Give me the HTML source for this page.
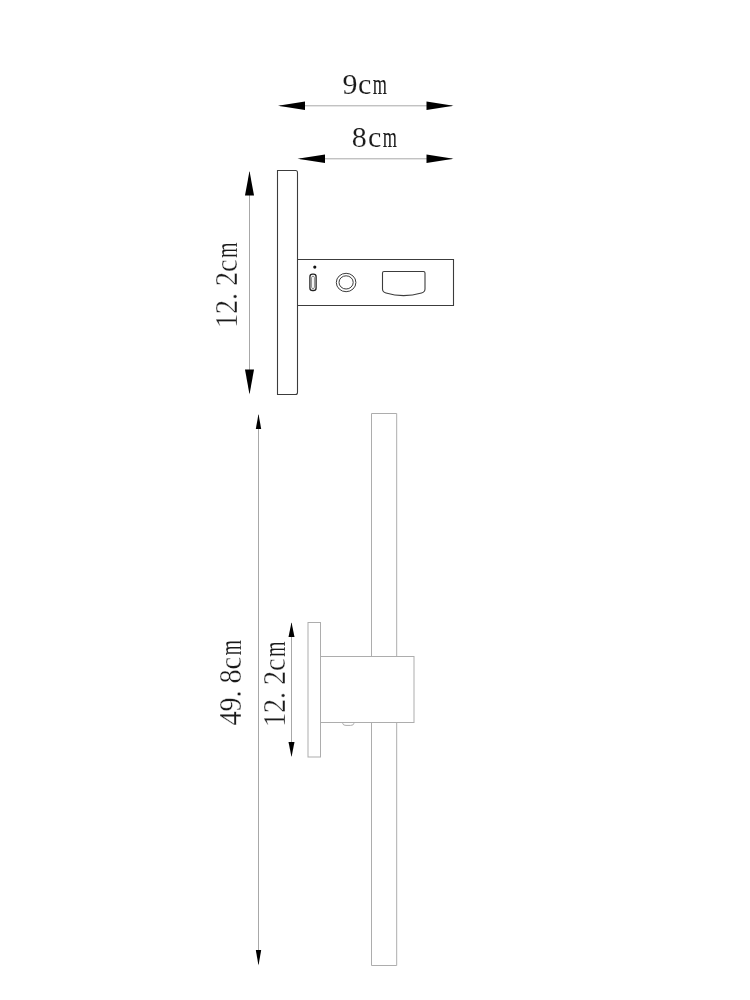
<!DOCTYPE html>
<html lang="en">
<head>
<meta charset="utf-8">
<title>Wall lamp dimensions</title>
<style>
html,body{margin:0;padding:0;background:#fff;}
body{width:750px;height:1000px;overflow:hidden;}
svg{display:block;will-change:transform;}
text{font-family:"Liberation Serif",serif;fill:#1a1a1a;stroke:#fff;stroke-width:.35px;paint-order:fill stroke;}
text.h{font-size:30px;stroke-width:.12px;}
text.h tspan{stroke-width:0;}
text.v tspan{stroke-width:.2px;}
text.v{font-size:31.4px;}
.dk{fill:none;stroke:#3c3c3c;stroke-width:1.1;}
.lt{fill:none;stroke:#adadad;stroke-width:1;}
.dim{fill:none;stroke:#a8a8a8;stroke-width:1;}
.ar{fill:#000;stroke:none;}
</style>
</head>
<body>
<svg width="750" height="1000" viewBox="0 0 750 1000">
<rect width="750" height="1000" fill="#fff"/>

<!-- top dimensions -->
<g id="dim-top">
  <line class="dim" x1="280" y1="105.8" x2="452" y2="105.8"/>
  <polygon class="ar" points="278,105.8 305,101.5 305,110.1"/>
  <polygon class="ar" points="453.5,105.8 426.5,101.5 426.5,110.1"/>
  <text class="h" x="342.6 357.9" y="94.2">9c<tspan x="372.8" textLength="14.2" lengthAdjust="spacingAndGlyphs">m</tspan></text>
  <line class="dim" x1="300" y1="158.8" x2="452" y2="158.8"/>
  <polygon class="ar" points="297.5,158.8 325,154.6 325,163"/>
  <polygon class="ar" points="453.5,158.8 426.5,154.6 426.5,163"/>
  <text class="h" x="351.8 367.9" y="147">8c<tspan x="382.8" textLength="14.2" lengthAdjust="spacingAndGlyphs">m</tspan></text>
</g>

<!-- top view -->
<g id="view-top">
  <path class="dk" d="M277.5,170.5 H295.5 Q297.5,170.5 297.5,172.5 V392.5 Q297.5,394.5 295.5,394.5 H277.5 Z"/>
  <path class="dk" d="M297.5,259.5 H453.5 V305.5 H297.5"/>
  <circle cx="314.8" cy="267.1" r="1.6" fill="#111"/>
  <rect class="dk" x="309.9" y="274.1" width="6.2" height="16.4" rx="2.6" style="stroke-width:1.3;stroke:#222"/>
  <rect class="dk" x="311.6" y="276.2" width="2.8" height="12.4" rx="1.4" style="stroke-width:.6"/>
  <ellipse class="dk" cx="346.1" cy="282.5" rx="9.8" ry="9.2" style="stroke-width:1"/>
  <ellipse class="dk" cx="346.1" cy="282.4" rx="7.1" ry="6.6" style="stroke-width:1"/>
  <path class="dk" d="M384,271.5 H423.5 Q425,271.5 425,273 V289 Q425,292 421.5,293 C410,296.3 397,296.3 386,293 Q382.5,292 382.5,289 V273 Q382.5,271.5 384,271.5 Z"/>
  <line class="dim" x1="249.5" y1="172" x2="249.5" y2="393"/>
  <polygon class="ar" points="249.5,171 245,195.5 254,195.5"/>
  <polygon class="ar" points="249.5,394.5 245,369.5 254,369.5"/>
  <text class="v" transform="translate(237.4 328) rotate(-90) scale(0.9 1)" x="0 15.55 31.1 46.65 62.2">12.2c<tspan x="77.75" textLength="17.2" lengthAdjust="spacingAndGlyphs">m</tspan></text>
</g>

<!-- front view -->
<g id="view-front">
  <path class="lt" d="M371.5,656.5 V413.5 H396.7 V656.5"/>
  <path class="lt" d="M371.5,722.5 V965.5 H396.7 V722.5"/>
  <rect class="lt" x="308" y="622.5" width="12.5" height="134.5"/>
  <rect class="lt" x="320.5" y="656.5" width="93.5" height="66"/>
  <path class="lt" d="M342.8,722.5 V723.6 Q343,725.4 346,725.4 H350.5 Q353.6,725.4 353.8,723.6 V722.5"/>
  <line class="dim" x1="258.5" y1="415" x2="258.5" y2="964"/>
  <polygon class="ar" points="258.5,414 255.8,429 261.2,429"/>
  <polygon class="ar" points="258.5,965.5 255.8,950 261.2,950"/>
  <text class="v" transform="translate(240.6 725.5) rotate(-90) scale(0.9 1)" x="0 15.55 31.1 46.65 62.2">49.8c<tspan x="77.75" textLength="17.2" lengthAdjust="spacingAndGlyphs">m</tspan></text>
  <line class="dim" x1="291.5" y1="623" x2="291.5" y2="756"/>
  <polygon class="ar" points="291.5,622.2 288.5,637 294.5,637"/>
  <polygon class="ar" points="291.5,757 288.5,742 294.5,742"/>
  <text class="v" transform="translate(284.7 727) rotate(-90) scale(0.9 1)" x="0 15.55 31.1 46.65 62.2">12.2c<tspan x="77.75" textLength="17.2" lengthAdjust="spacingAndGlyphs">m</tspan></text>
</g>
</svg>
</body>
</html>
